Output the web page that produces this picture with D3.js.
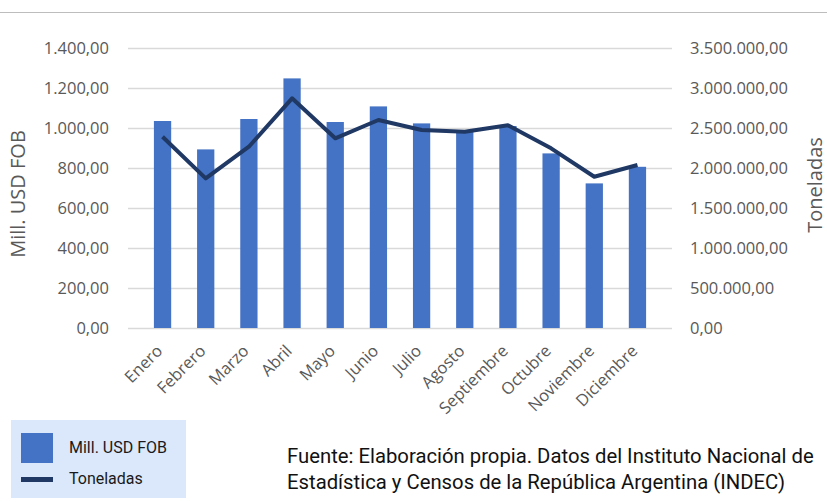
<!DOCTYPE html>
<html>
<head>
<meta charset="utf-8">
<script src="https://cdn.jsdelivr.net/npm/d3@7"></script>
<style>
  body { margin: 0; background: #fff; }
  svg { display: block; }
</style>
</head>
<body>
<div id="chart"></div>
<script>
// Datos por mes
const months = ["Enero", "Febrero", "Marzo", "Abril", "Mayo", "Junio", "Julio",
  "Agosto", "Septiembre", "Octubre", "Noviembre", "Diciembre"];
const usdFob = [1035, 893, 1045, 1248, 1030, 1108, 1023, 990, 1010, 873, 723, 806];
const toneladas = [2391000, 1871000, 2266000, 2871000, 2371000, 2600000, 2475000,
  2454000, 2534000, 2246000, 1891000, 2037000];
const leftTicks = [0, 200, 400, 600, 800, 1000, 1200, 1400];
const rightTicks = [0, 500000, 1000000, 1500000, 2000000, 2500000, 3000000, 3500000];

const width = 827;
const height = 502;
const margin = { top: 48, right: 155, bottom: 174, left: 128 };
const innerW = width - margin.left - margin.right;
const innerH = height - margin.top - margin.bottom;

const fmt = d3.formatLocale({ decimal: ",", thousands: ".", grouping: [3], currency: ["", ""] }).format(",.2f");

const svg = d3.select("#chart")
  .append("svg")
  .attr("width", width)
  .attr("height", height);

// top separator line
svg.append("line")
  .attr("x1", 0).attr("x2", width)
  .attr("y1", 12.5).attr("y2", 12.5)
  .attr("stroke", "#bdbdbd")
  .attr("stroke-width", 1);

const g = svg.append("g")
  .attr("transform", `translate(${margin.left},${margin.top})`);

const x = d3.scaleBand().domain(months).range([0, innerW]).padding(0.6);
const yL = d3.scaleLinear().domain([0, 1400]).range([innerH, 0]);
const yR = d3.scaleLinear().domain([0, 3500000]).range([innerH, 0]);

// gridlines
g.append("g")
  .selectAll("line")
  .data(leftTicks)
  .enter()
  .append("line")
  .attr("x1", 0).attr("x2", innerW)
  .attr("y1", (d) => Math.round(yL(d)) + 0.5)
  .attr("y2", (d) => Math.round(yL(d)) + 0.5)
  .attr("stroke", "#d9d9d9")
  .attr("stroke-width", 1.5);

const tickFont = "'Open Sans', 'Noto Sans', sans-serif";

// left axis
const leftAxis = g.append("g")
  .call(d3.axisLeft(yL).tickValues(leftTicks).tickFormat(fmt).tickSize(0).tickPadding(19));
leftAxis.select(".domain").remove();
leftAxis.selectAll("text")
  .style("font-family", tickFont)
  .style("font-size", "16.5px")
  .attr("fill", "#595959");

// right axis
const rightAxis = g.append("g")
  .attr("transform", `translate(${innerW},0)`)
  .call(d3.axisRight(yR).tickValues(rightTicks).tickFormat(fmt).tickSize(0).tickPadding(18));
rightAxis.select(".domain").remove();
rightAxis.selectAll("text")
  .style("font-family", tickFont)
  .style("font-size", "16.5px")
  .attr("fill", "#595959");

// bars
g.selectAll(".bar")
  .data(usdFob)
  .enter()
  .append("rect")
  .attr("class", "bar")
  .attr("x", (d, i) => x(months[i]))
  .attr("y", (d) => yL(d))
  .attr("width", x.bandwidth())
  .attr("height", (d) => innerH - yL(d))
  .attr("fill", "#4472c4");

// x axis labels
const xAxis = g.append("g")
  .attr("transform", `translate(0,${innerH})`)
  .call(d3.axisBottom(x).tickSize(0).tickPadding(0));
xAxis.select(".domain").remove();
xAxis.selectAll("text")
  .style("font-family", tickFont)
  .style("font-size", "16.5px")
  .attr("fill", "#595959")
  .attr("dy", null)
  .attr("y", 0)
  .attr("transform", "translate(1,24) rotate(-45)")
  .style("text-anchor", "end");

// line
const line = d3.line()
  .x((d, i) => x(months[i]) + x.bandwidth() / 2)
  .y((d) => yR(d));

g.append("path")
  .datum(toneladas)
  .attr("d", line)
  .attr("fill", "none")
  .attr("stroke", "#1f3864")
  .attr("stroke-width", 4)
  .attr("stroke-linejoin", "round");

// axis titles
svg.append("text")
  .attr("transform", "translate(25,194) rotate(-90)")
  .attr("text-anchor", "middle")
  .style("font-family", tickFont)
  .style("font-size", "20px")
  .attr("fill", "#595959")
  .text("Mill. USD FOB");

svg.append("text")
  .attr("transform", "translate(822,185) rotate(-90)")
  .attr("text-anchor", "middle")
  .style("font-family", tickFont)
  .style("font-size", "20px")
  .attr("fill", "#595959")
  .text("Toneladas");

// legend
const legend = svg.append("g");
legend.append("rect")
  .attr("x", 11).attr("y", 420)
  .attr("width", 175).attr("height", 78)
  .attr("fill", "#dbe8fb");
legend.append("rect")
  .attr("x", 21).attr("y", 433)
  .attr("width", 32).attr("height", 30)
  .attr("fill", "#4472c4");
legend.append("rect")
  .attr("x", 21).attr("y", 477)
  .attr("width", 32).attr("height", 5)
  .attr("fill", "#1f3864");
legend.append("text")
  .attr("x", 69).attr("y", 453)
  .style("font-family", "Roboto, sans-serif")
  .style("font-size", "16px")
  .attr("fill", "#1a1a1a")
  .text("Mill. USD FOB");
legend.append("text")
  .attr("x", 69).attr("y", 484)
  .style("font-family", "Roboto, sans-serif")
  .style("font-size", "16px")
  .attr("fill", "#1a1a1a")
  .text("Toneladas");

// source
const source = svg.append("text")
  .style("font-family", "Roboto, sans-serif")
  .style("font-size", "20.3px")
  .attr("fill", "#111");
source.append("tspan").attr("x", 287).attr("y", 463)
  .text("Fuente: Elaboración propia. Datos del Instituto Nacional de");
source.append("tspan").attr("x", 287).attr("y", 489)
  .text("Estadística y Censos de la República Argentina (INDEC)");
</script>
</body>
</html>
